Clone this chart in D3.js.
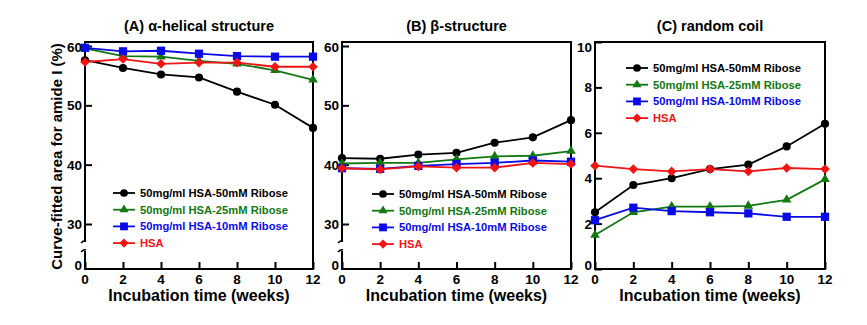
<!DOCTYPE html>
<html>
<head>
<meta charset="utf-8">
<script src="https://cdn.jsdelivr.net/npm/d3@7"></script>
<style>
  html, body { margin: 0; padding: 0; background: #fff; }
  svg { display: block; }
  text { font-family: "Liberation Sans", Arial, sans-serif; font-weight: bold; }
</style>
</head>
<body>
<svg id="chart" width="867" height="325"></svg>
<script>
// ---------------- DATA ----------------
const weeks = [0, 2, 4, 6, 8, 10, 12];
const seriesNames = ["50mg/ml HSA-50mM Ribose", "50mg/ml HSA-25mM Ribose", "50mg/ml HSA-10mM Ribose", "HSA"];
const seriesColors = ["#000000", "#127812", "#0a0ae6", "#f01414"];
const seriesSymbols = ["circle", "triangle", "square", "diamond"];

// (A) alpha-helical structure
const alpha50 = [57.6, 56.3, 55.2, 54.7, 52.3, 50.1, 46.2];
const alpha25 = [59.6, 58.3, 58.2, 57.5, 57.0, 55.9, 54.3];
const alpha10 = [59.7, 59.1, 59.2, 58.7, 58.3, 58.2, 58.2];
const alphaHSA = [57.3, 57.8, 57.0, 57.2, 57.2, 56.5, 56.5];

// (B) beta-structure
const beta50 = [41.1, 41.0, 41.7, 42.0, 43.7, 44.6, 47.5];
const beta25 = [40.2, 40.3, 40.3, 40.9, 41.4, 41.5, 42.3];
const beta10 = [39.4, 39.3, 39.8, 40.1, 40.3, 40.7, 40.5];
const betaHSA = [39.4, 39.2, 39.7, 39.5, 39.5, 40.3, 40.1];

// (C) random coil
const coil50 = [2.5, 3.7, 4.0, 4.4, 4.6, 5.4, 6.4];
const coil25 = [1.5, 2.5, 2.75, 2.75, 2.78, 3.05, 3.95];
const coil10 = [2.15, 2.7, 2.55, 2.5, 2.45, 2.3, 2.3];
const coilHSA = [4.55, 4.4, 4.3, 4.4, 4.3, 4.45, 4.4];

const titles = ["(A) \u03b1-helical structure", "(B) \u03b2-structure", "(C) random coil"];
const xTicks = [0, 2, 4, 6, 8, 10, 12];
const yTicksBroken = [30, 40, 50, 60];
const yTicksCoil = [0, 2, 4, 6, 8, 10];
const xTitle = "Incubation time (weeks)";
const yTitle = "Curve-fitted area for amide I (%)";

// ---------------- LAYOUT ----------------
const svg = d3.select("#chart");
const plotTop = 42, plotBottom = 269;
const panels = [
  { x0: 85, x1: 313, data: [alpha50, alpha25, alpha10, alphaHSA], broken: true, legend: { lx: 113, tx: 140, y: 193 } },
  { x0: 342, x1: 571, data: [beta50, beta25, beta10, betaHSA], broken: true, legend: { lx: 372, tx: 399, y: 194 } },
  { x0: 595, x1: 825, data: [coil50, coil25, coil10, coilHSA], broken: false, legend: { lx: 626, tx: 653, y: 68 } }
];

function symbolPath(kind, s) {
  if (kind === "circle") return d3.symbol(d3.symbolCircle, 52 * s * s)();
  if (kind === "square") return d3.symbol(d3.symbolSquare, 68 * s * s)();
  if (kind === "triangle") return d3.symbol(d3.symbolTriangle, 40 * s * s)();
  const r = 4.8 * s;
  return `M0,${-r}L${r},0L0,${r}L${-r},0Z`;
}

panels.forEach((p, pi) => {
  const g = svg.append("g");
  const x = d3.scaleLinear().domain([0, 12]).range([p.x0, p.x1]);
  let y, yTickVals;
  if (p.broken) {
    y = d3.scaleLinear().domain([30, 60]).range([224, 46]);
    yTickVals = yTicksBroken;
  } else {
    y = d3.scaleLinear().domain([0, 10]).range([plotBottom, plotTop]);
    yTickVals = yTicksCoil;
  }

  // frame
  const frame = g.append("g").attr("stroke", "#000").attr("stroke-width", 2).attr("fill", "none");
  frame.append("line").attr("x1", p.x0 - 1).attr("x2", p.x1 + 1).attr("y1", plotTop).attr("y2", plotTop);
  frame.append("line").attr("x1", p.x1).attr("x2", p.x1).attr("y1", plotTop).attr("y2", plotBottom);
  frame.append("line").attr("x1", p.x0 - 1).attr("x2", p.x1 + 1).attr("y1", plotBottom).attr("y2", plotBottom);
  if (p.broken) {
    frame.append("line").attr("x1", p.x0).attr("x2", p.x0).attr("y1", plotTop).attr("y2", 242);
    frame.append("line").attr("x1", p.x0).attr("x2", p.x0).attr("y1", 251).attr("y2", plotBottom);
    frame.append("path").attr("d", `M${p.x0 - 4},${243}Q${p.x0 - 1},${240} ${p.x0 + 1},${241}`).attr("stroke-width", 1.6);
    frame.append("path").attr("d", `M${p.x0 - 4},${252}Q${p.x0 - 1},${249} ${p.x0 + 1},${250}`).attr("stroke-width", 1.6);
  } else {
    frame.append("line").attr("x1", p.x0).attr("x2", p.x0).attr("y1", plotTop).attr("y2", plotBottom);
  }

  // y axis ticks (inward) and labels
  const yAxis = d3.axisRight(y).tickValues(yTickVals).tickSize(7).tickFormat("");
  const ya = g.append("g").attr("transform", `translate(${p.x0},0)`).call(yAxis);
  ya.select(".domain").remove();
  ya.selectAll("line").attr("stroke", "#000").attr("stroke-width", 2);
  const yLabels = yTickVals.map(v => ({ v, py: y(v) }));
  if (p.broken) yLabels.unshift({ v: 0, py: plotBottom });
  // labels at the extremes are kept inside the frame's height
  g.selectAll(".ylab").data(yLabels).enter().append("text")
    .attr("x", p.x0 - 3).attr("y", d => Math.min(Math.max(d.py, 47), 265) + 5)
    .attr("text-anchor", "end").attr("font-size", 13.5).attr("fill", "#000")
    .text(d => d.v);

  // x axis ticks (inward) and labels
  const xAxis = d3.axisTop(x).tickValues(xTicks).tickSize(7).tickFormat("");
  const xa = g.append("g").attr("transform", `translate(0,${plotBottom})`).call(xAxis);
  xa.select(".domain").remove();
  xa.selectAll("line").attr("stroke", "#000").attr("stroke-width", 2);
  g.selectAll(".xlab").data(xTicks).enter().append("text")
    .attr("x", d => x(d)).attr("y", 283.5)
    .attr("text-anchor", "middle").attr("font-size", 13.5).attr("fill", "#000")
    .text(d => d);

  // titles
  g.append("text").attr("x", (p.x0 + p.x1) / 2).attr("y", 31).attr("text-anchor", "middle")
    .attr("font-size", 14.5).attr("fill", "#000").text(titles[pi]);
  g.append("text").attr("x", (p.x0 + p.x1) / 2).attr("y", 300.5).attr("text-anchor", "middle")
    .attr("font-size", 16).attr("fill", "#000").text(xTitle);

  // series
  const line = d3.line().x((d, i) => x(weeks[i])).y(d => y(d));
  p.data.forEach((vals, si) => {
    g.append("path").datum(vals).attr("d", line)
      .attr("fill", "none").attr("stroke", seriesColors[si]).attr("stroke-width", 1.8);
    g.selectAll(null).data(vals).enter().append("path")
      .attr("d", symbolPath(seriesSymbols[si], 1))
      .attr("transform", (d, i) => `translate(${x(weeks[i])},${y(d)})`)
      .attr("fill", seriesColors[si]);
  });

  // legend
  seriesNames.forEach((name, si) => {
    const ly = p.legend.y + si * 16.7;
    const lg = g.append("g");
    lg.append("line").attr("x1", p.legend.lx).attr("x2", p.legend.lx + 22).attr("y1", ly).attr("y2", ly)
      .attr("stroke", seriesColors[si]).attr("stroke-width", 1.8);
    lg.append("path").attr("d", symbolPath(seriesSymbols[si], 0.95))
      .attr("transform", `translate(${p.legend.lx + 11},${ly})`).attr("fill", seriesColors[si]);
    lg.append("text").attr("x", p.legend.tx).attr("y", ly + 4).attr("font-size", 11.2)
      .attr("fill", seriesColors[si]).text(name);
  });
});

// y axis title
svg.append("text").attr("transform", "translate(62,156.5) rotate(-90)")
  .attr("text-anchor", "middle").attr("font-size", 15).attr("fill", "#000").text(yTitle);
</script>
</body>
</html>
